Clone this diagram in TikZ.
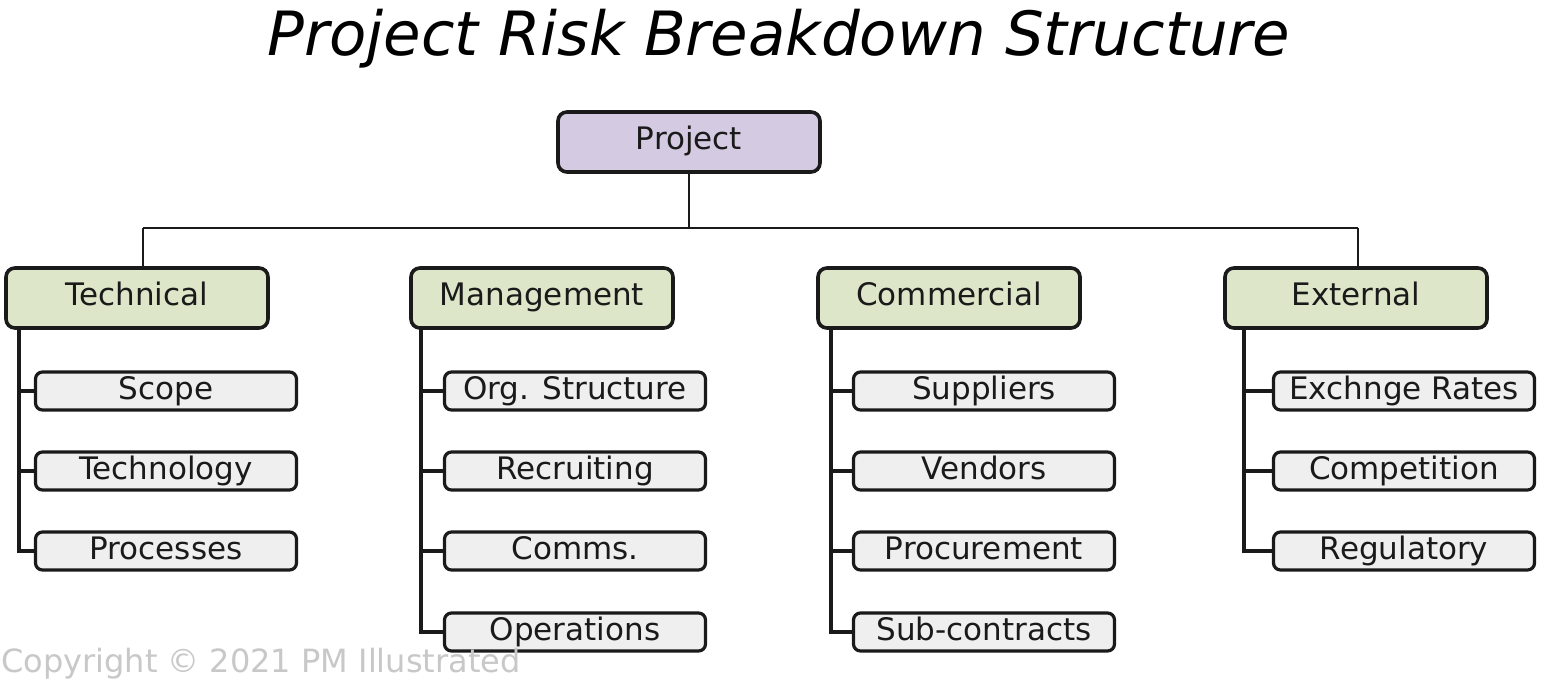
\documentclass[tikz,border=0pt]{standalone}
\usepackage{fontspec}
\setmainfont{DejaVu Sans}
\definecolor{projfill}{HTML}{D4CAE2}
\definecolor{catfill}{HTML}{DDE6C8}
\definecolor{itemfill}{HTML}{EFEFEF}
\definecolor{linecol}{HTML}{1A1A1A}
\definecolor{copycol}{HTML}{C8C8C8}
\tikzset{
  box/.style={draw=linecol, line width=3.6pt, rounded corners=9pt, inner sep=0pt,
    font=\fontsize{31}{36}\selectfont, text=linecol},
  projbox/.style={box, fill=projfill, minimum width=262pt, minimum height=60pt,
    text height=22pt, text depth=7pt},
  catbox/.style={box, fill=catfill, minimum width=262pt, minimum height=60pt,
    text height=22pt, text depth=7pt},
  itembox/.style={box, fill=itemfill, minimum width=261pt, minimum height=38pt,
    text height=22pt, text depth=5pt, line width=3.2pt, rounded corners=7pt},
  conn/.style={draw=linecol, line width=3.2pt},
  busline/.style={draw=linecol, line width=2.8pt},
}
\begin{document}
\begin{tikzpicture}[x=1pt,y=-1pt]
\useasboundingbox (0,0) rectangle (1546,682);
\fill[white] (0,0) rectangle (1546,682);

% title
\node[font=\fontsize{61}{66}\selectfont\itshape, text=black, anchor=base] (title) at (779,56) {Project Risk Breakdown Structure};

% root
\node[projbox] (proj) at (689,142) {Project};

% categories
\node[catbox] (tech) at (137,298) {Technical};
\node[catbox] (mgmt) at (542,298) {Management};
\node[catbox] (comm) at (949,298) {Commercial};
\node[catbox] (ext)  at (1356,298) {External};

% bus
\coordinate (busL) at (143,228);
\coordinate (busR) at (1358,228);
\draw[busline] (proj.south) -- (proj.south |- busL);
\draw[busline] (busL) -- (busR);
\draw[busline] (busL) -- (busL |- tech.north);
\draw[busline] (busR) -- (busR |- ext.north);

% Technical items
\node[itembox] (t1) at (166,391) {Scope};
\node[itembox] (t2) at (166,471) {Technology};
\node[itembox] (t3) at (166,551) {Processes};
\coordinate (ts) at (19,328);
\draw[conn] (ts) |- (t3.west);
\draw[conn] (ts |- t1.west) -- (t1.west);
\draw[conn] (ts |- t2.west) -- (t2.west);

% Management items
\node[itembox] (m1) at (575,391) {Org. Structure};
\node[itembox] (m2) at (575,471) {Recruiting};
\node[itembox] (m3) at (575,551) {Comms.};
\node[itembox] (m4) at (575,632) {Operations};
\coordinate (ms) at (421,328);
\draw[conn] (ms) |- (m4.west);
\draw[conn] (ms |- m1.west) -- (m1.west);
\draw[conn] (ms |- m2.west) -- (m2.west);
\draw[conn] (ms |- m3.west) -- (m3.west);

% Commercial items
\node[itembox] (c1) at (984,391) {Suppliers};
\node[itembox] (c2) at (984,471) {Vendors};
\node[itembox] (c3) at (984,551) {Procurement};
\node[itembox] (c4) at (984,632) {Sub-contracts};
\coordinate (cs) at (831,328);
\draw[conn] (cs) |- (c4.west);
\draw[conn] (cs |- c1.west) -- (c1.west);
\draw[conn] (cs |- c2.west) -- (c2.west);
\draw[conn] (cs |- c3.west) -- (c3.west);

% External items
\node[itembox] (e1) at (1404,391) {Exchnge Rates};
\node[itembox] (e2) at (1404,471) {Competition};
\node[itembox] (e3) at (1404,551) {Regulatory};
\coordinate (es) at (1244,328);
\draw[conn] (es) |- (e3.west);
\draw[conn] (es |- e1.west) -- (e1.west);
\draw[conn] (es |- e2.west) -- (e2.west);

% copyright
\node[font=\fontsize{32}{36}\selectfont, text=copycol, anchor=base west, inner sep=0pt] (copy) at (1,672) {Copyright © 2021 PM Illustrated};
\end{tikzpicture}
\end{document}
